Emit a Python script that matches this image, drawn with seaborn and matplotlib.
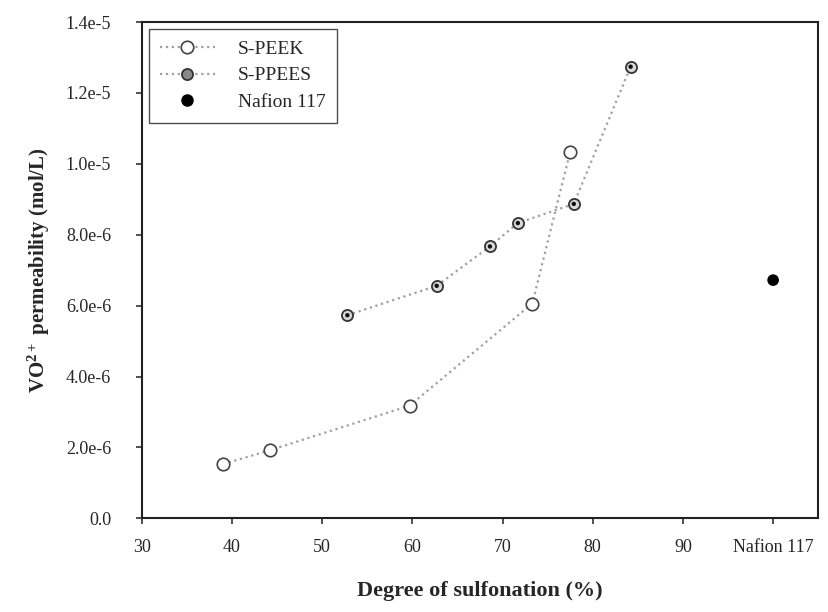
import matplotlib
matplotlib.use("Agg")
import matplotlib.pyplot as plt
import seaborn as sns
import pandas as pd
from matplotlib.lines import Line2D

speek_x = [39.0, 44.2, 59.7, 73.3, 77.5]
speek_y = [1.53e-6, 1.92e-6, 3.18e-6, 6.06e-6, 1.034e-5]
sppees_x = [52.8, 62.7, 68.6, 71.7, 77.9, 84.2]
sppees_y = [5.73e-6, 6.56e-6, 7.67e-6, 8.33e-6, 8.87e-6, 1.274e-5]
nafion_x = [100]
nafion_y = [6.72e-6]

xticks = [30, 40, 50, 60, 70, 80, 90, 100]
xticklabels = ["30", "40", "50", "60", "70", "80", "90", "Nafion 117"]
yticks = [0, 2e-6, 4e-6, 6e-6, 8e-6, 1.0e-5, 1.2e-5, 1.4e-5]
yticklabels = ["0.0", "2.0e-6", "4.0e-6", "6.0e-6", "8.0e-6", "1.0e-5", "1.2e-5", "1.4e-5"]

sns.set_theme(style="ticks")
plt.rcParams["font.family"] = ["Liberation Serif", "DejaVu Serif"]
plt.rcParams["mathtext.fontset"] = "custom"
plt.rcParams["mathtext.rm"] = "Liberation Serif"
plt.rcParams["mathtext.bf"] = "Liberation Serif:bold"

fig = plt.figure(figsize=(8.29, 6.12), dpi=100)
ax = fig.add_axes([0.171, 0.153, 0.816, 0.811])

df1 = pd.DataFrame({"x": speek_x, "y": speek_y})
df2 = pd.DataFrame({"x": sppees_x, "y": sppees_y})
df3 = pd.DataFrame({"x": nafion_x, "y": nafion_y})

sns.lineplot(data=df1, x="x", y="y", ax=ax, color="#a0a0a0", linestyle=":",
             linewidth=1.6, marker="o", markersize=9, markerfacecolor="white",
             markeredgecolor="#444444", markeredgewidth=1.2, sort=False)
sns.lineplot(data=df2, x="x", y="y", ax=ax, color="#a0a0a0", linestyle=":",
             linewidth=1.6, marker="o", markersize=8, markerfacecolor="#d8d8d8",
             markeredgecolor="#333333", markeredgewidth=1.3, sort=False)
sns.scatterplot(data=df2, x="x", y="y", ax=ax, color="#111111", s=10,
                edgecolor="none", zorder=5)
sns.scatterplot(data=df3, x="x", y="y", ax=ax, color="black", s=70,
                edgecolor="none", zorder=5)

ax.set_xlim(30, 105)
ax.set_ylim(0, 1.4e-5)
ax.set_xticks(xticks)
ax.set_xticklabels(xticklabels, fontsize=13)
ax.set_yticks(yticks)
ax.set_yticklabels(yticklabels, fontsize=13)
ax.tick_params(axis="y", direction="out", length=4, width=1.2, color="#333333", pad=18)
ax.tick_params(axis="x", direction="out", length=4, width=1.2, color="#333333", pad=11)
for s in ax.spines.values():
    s.set_visible(True)
    s.set_linewidth(1.5)
    s.set_color("#222222")

ax.set_xlabel("Degree of sulfonation (%)", fontsize=16, fontweight="bold", labelpad=18)
ax.set_ylabel(r"$\mathbf{VO^{2+}}$ permeability (mol/L)", fontsize=15,
              fontweight="bold", labelpad=10)

h1 = Line2D([], [], color="#a0a0a0", linestyle=":", linewidth=1.6, marker="o",
            markersize=9, markerfacecolor="white", markeredgecolor="#444444",
            markeredgewidth=1.2)
h2 = Line2D([], [], color="#a0a0a0", linestyle=":", linewidth=1.6, marker="o",
            markersize=8, markerfacecolor="#888888", markeredgecolor="#333333",
            markeredgewidth=1.3)
h3 = Line2D([], [], color="black", linestyle="none", marker="o", markersize=8)
leg = ax.legend([h1, h2, h3], ["S-PEEK", "S-PPEES", "Nafion 117"],
                loc="upper left", fontsize=14, frameon=True, fancybox=False,
                edgecolor="#222222", borderaxespad=0.35, handlelength=2.8,
                handletextpad=1.2, labelspacing=0.45, borderpad=0.6)
leg.get_frame().set_linewidth(1.0)

fig.savefig("out.png", dpi=100)
